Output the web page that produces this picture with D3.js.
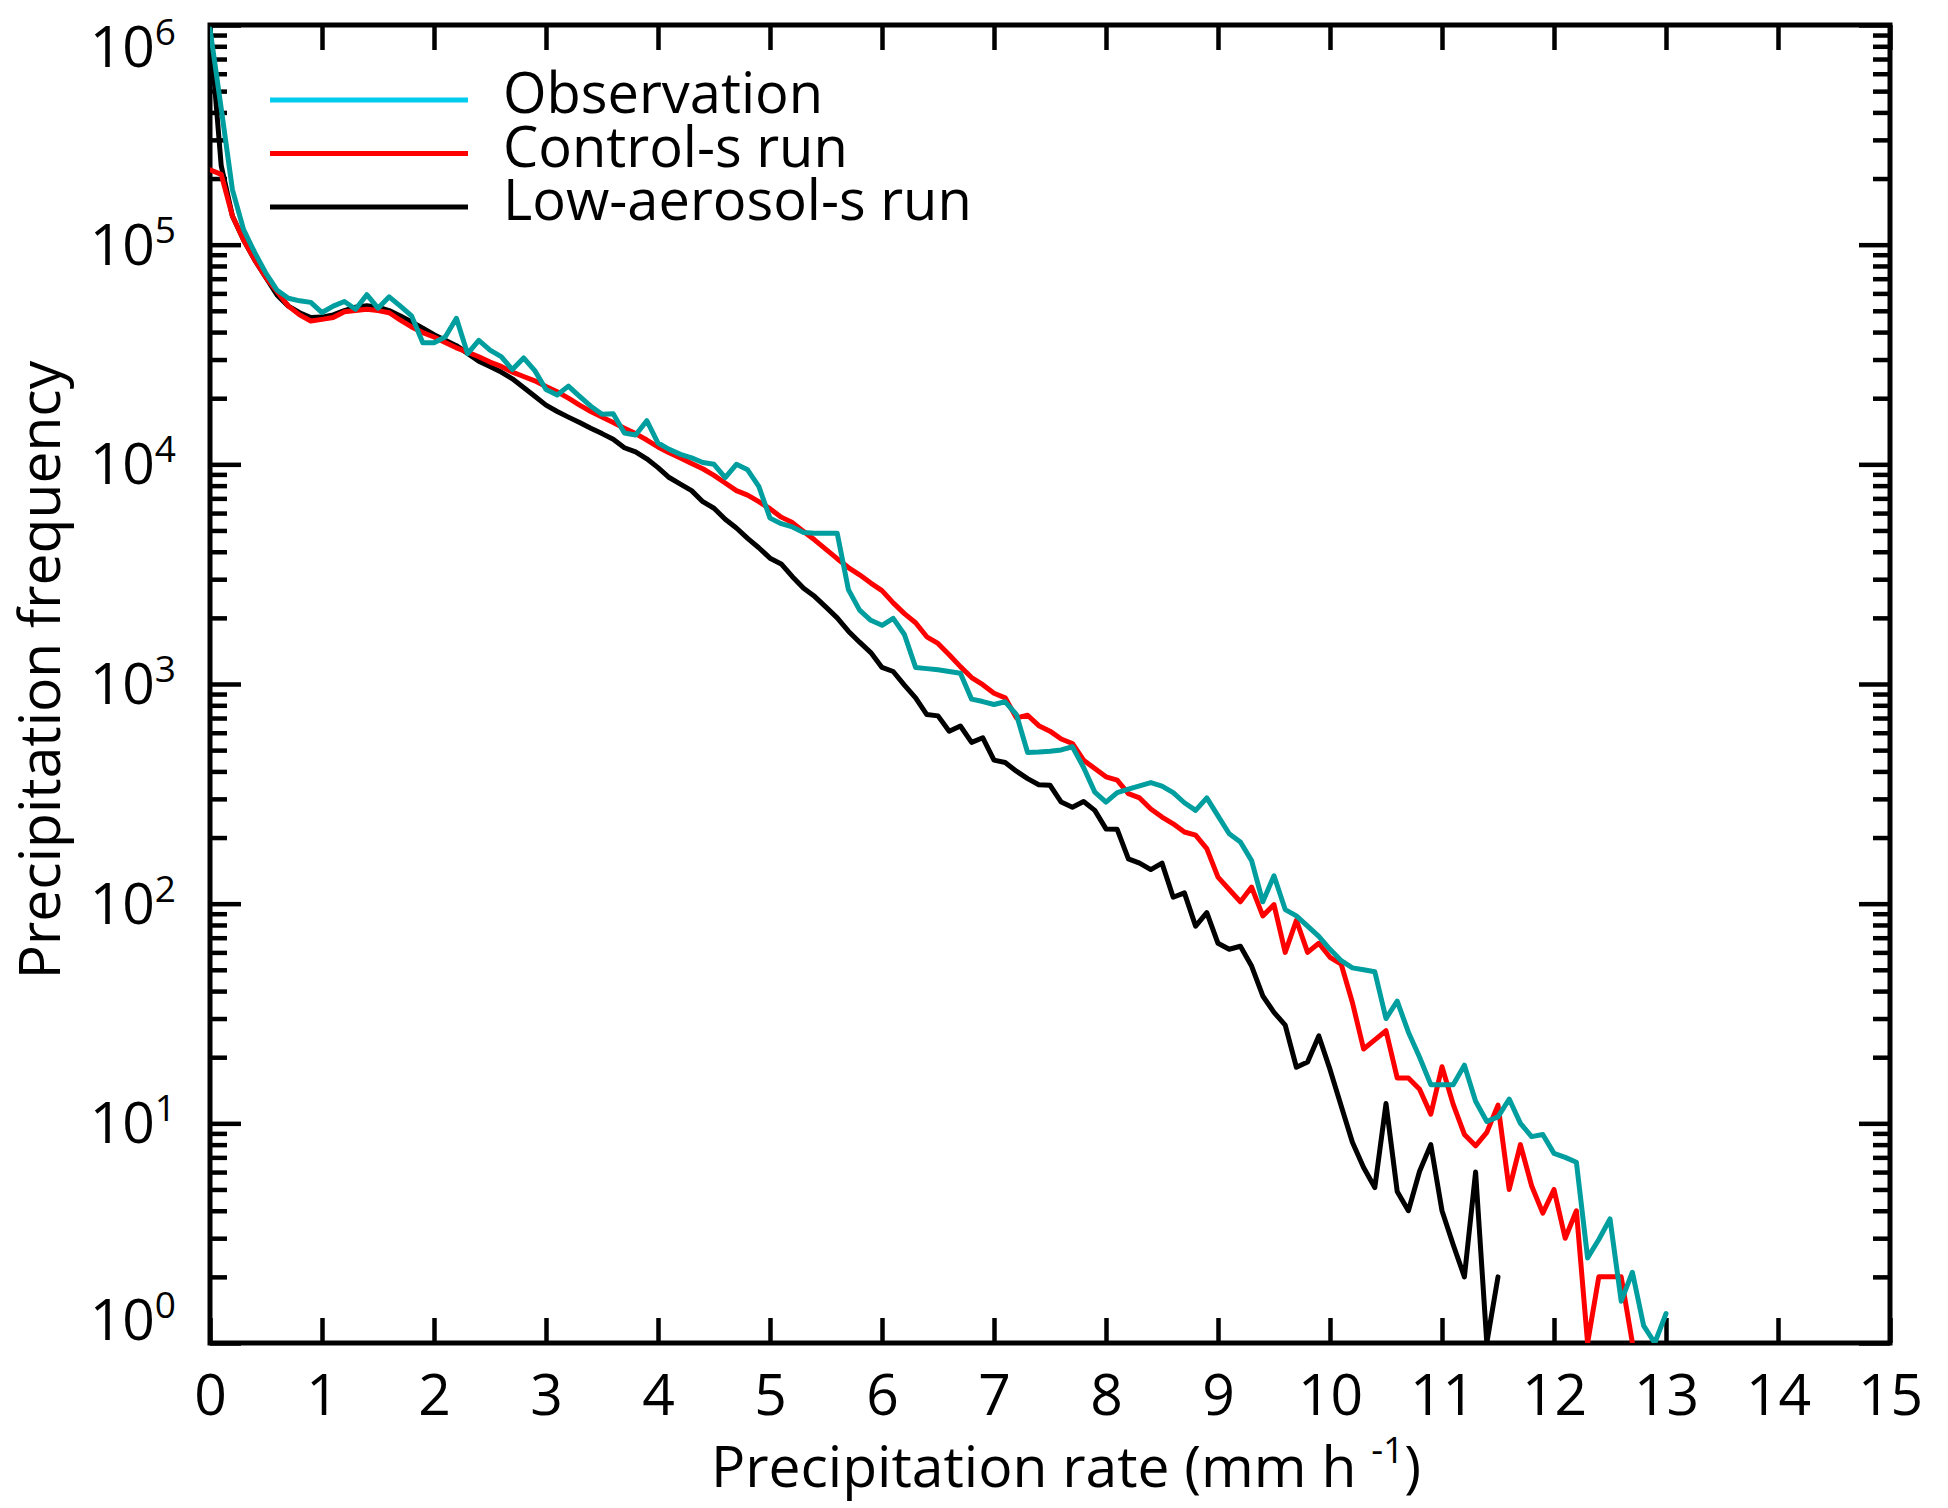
<!DOCTYPE html>
<html>
<head>
<meta charset="utf-8">
<script src="https://cdn.jsdelivr.net/npm/d3@7"></script>
<style>
  body { margin: 0; background: #fff; }
  text { font-family: "Open Sans", "Noto Sans", sans-serif; fill: #000; }
</style>
</head>
<body>
<script>
// bin centres, mm/h (0.1 mm/h bins)
const rate = [0.0,0.1,0.2,0.3,0.4,0.5,0.6,0.7,0.8,0.9,
  1.0,1.1,1.2,1.3,1.4,1.5,1.6,1.7,1.8,1.9,
  2.0,2.1,2.2,2.3,2.4,2.5,2.6,2.7,2.8,2.9,
  3.0,3.1,3.2,3.3,3.4,3.5,3.6,3.7,3.8,3.9,
  4.0,4.1,4.2,4.3,4.4,4.5,4.6,4.7,4.8,4.9,
  5.0,5.1,5.2,5.3,5.4,5.5,5.6,5.7,5.8,5.9,
  6.0,6.1,6.2,6.3,6.4,6.5,6.6,6.7,6.8,6.9,
  7.0,7.1,7.2,7.3,7.4,7.5,7.6,7.7,7.8,7.9,
  8.0,8.1,8.2,8.3,8.4,8.5,8.6,8.7,8.8,8.9,
  9.0,9.1,9.2,9.3,9.4,9.5,9.6,9.7,9.8,9.9,
  10.0,10.1,10.2,10.3,10.4,10.5,10.6,10.7,10.8,10.9,
  11.0,11.1,11.2,11.3,11.4,11.5,11.6,11.7,11.8,11.9,
  12.0,12.1,12.2,12.3,12.4,12.5,12.6,12.7,12.8,12.9,
  13.0];

const observation = [960000,417000,178000,117000,92000,74000,62000,57000,55500,54600,
  49100,52500,55100,50800,59200,51400,57900,52500,47400,35800,
  35800,38000,46200,31900,36700,33100,30900,27000,30500,26700,
  21900,20700,22700,20400,18400,16900,17000,13900,13600,15800,
  12500,11700,11100,10700,10200,10000,8700,10000,9440,7940,
  5690,5370,5190,4900,4860,4860,4860,2690,2170,1950,
  1850,1990,1680,1190,1175,1160,1140,1120,853,832,
  807,830,726,488,490,494,501,518,417,322,
  290,320,332,344,356,343,320,288,266,303,
  251,208,191,157,102,134,94,88,79,71,
  62,55,51,50,49,30,36,26,20,15,
  15,15,18.4,12.6,10.2,10.7,12.9,10,8.7,8.9,
  7.3,7.0,6.65,2.44,2.96,3.67,1.55,2.1,1.2,1.0,
  1.36];

const controlRun = [219000,209000,135000,105000,85100,70800,61000,52500,47900,44900,
  45700,46600,49500,50100,50800,50100,49000,45300,42200,39800,
  38000,35900,33900,32400,30900,29200,27900,26300,25100,24000,
  22600,21400,20000,18600,17400,16400,15500,14600,13800,12900,
  12000,11300,10700,10100,9550,8910,8220,7590,7240,6760,
  6280,5750,5430,4950,4520,4100,3720,3390,3140,2880,
  2660,2340,2090,1900,1640,1530,1360,1200,1070,993,
  908,865,701,721,646,610,562,536,450,412,
  378,365,317,303,270,248,231,212,205,178,
  132,116,102,119,88,99,60,84,60,66,
  57,53,35.5,21.8,24,26.4,16.1,16.1,14.3,11,
  18.1,12.2,8.9,7.9,9.1,12.1,5.0,8.0,5.2,3.9,
  5.0,3.0,4.0,1,2,2,2,1];

const lowAerosolRun = [960000,229000,135000,105000,85100,70800,58900,52500,49000,46600,
  46800,47900,50100,51900,52700,51900,50100,47400,44500,41700,
  38900,36700,34700,32000,29500,27900,26300,24500,22400,20400,
  18600,17400,16400,15500,14600,13800,13000,11900,11400,10600,
  9660,8710,8130,7590,6760,6310,5620,5130,4600,4170,
  3740,3520,3080,2730,2500,2240,2000,1740,1550,1390,
  1190,1140,989,865,726,716,610,644,542,569,
  450,439,401,371,348,346,290,275,292,266,
  219,218,160,153,143,153,107,112,79,91,
  66,62,64,52,38,32,28,18,19,25,
  17.6,12,8.2,6.3,5.1,12.3,4.9,4.0,6.05,8.0,
  4.0,2.8,2.0,6.0,1,2];

const xTicks = [0,1,2,3,4,5,6,7,8,9,10,11,12,13,14,15];
const decades = [1,10,100,1000,10000,100000,1000000];
const exponents = ["0","1","2","3","4","5","6"];
const legendNames = ["Observation", "Control-s run", "Low-aerosol-s run"];

const W = 1948, H = 1508;
const pLeft = 210, pRight = 1890, pTop = 25, pBottom = 1343;

const x = d3.scaleLinear().domain([0, 15]).range([pLeft, pRight]);
const y = d3.scaleLog().domain([1, 1e6]).range([pBottom, pTop]);

const svg = d3.select("body").append("svg")
  .attr("width", W).attr("height", H);

svg.append("defs").append("clipPath").attr("id", "plot")
  .append("rect").attr("x", pLeft).attr("y", pTop)
  .attr("width", pRight - pLeft).attr("height", pBottom - pTop);

// minor log ticks 2..9 in every decade
const minor = [];
decades.slice(0, -1).forEach(d => { for (let k = 2; k <= 9; k++) minor.push(d * k); });

function styleAxis(g) {
  g.select(".domain").remove();
  g.selectAll(".tick line").attr("stroke", "#000").attr("stroke-width", 4.5);
}

// x axes
svg.append("g").attr("transform", `translate(0,${pBottom})`)
  .call(d3.axisBottom(x).tickValues(xTicks).tickSizeInner(-25).tickSizeOuter(0).tickPadding(32))
  .call(styleAxis)
  .call(g => g.selectAll(".tick text")
    .attr("font-size", 57).attr("font-family", "Open Sans").attr("fill", "#000"));

svg.append("g").attr("transform", `translate(0,${pTop})`)
  .call(d3.axisTop(x).tickValues(xTicks).tickSizeInner(-25).tickSizeOuter(0).tickFormat(""))
  .call(styleAxis);

// y axes, major and minor, both sides
[[d3.axisLeft, pLeft], [d3.axisRight, pRight]].forEach(([ax, px]) => {
  svg.append("g").attr("transform", `translate(${px},0)`)
    .call(ax(y).tickValues(decades).tickSizeInner(-31).tickSizeOuter(0).tickFormat(""))
    .call(styleAxis);
  svg.append("g").attr("transform", `translate(${px},0)`)
    .call(ax(y).tickValues(minor).tickSizeInner(-17).tickSizeOuter(0).tickFormat(""))
    .call(styleAxis);
});

// y tick labels 10^n
const yLab = svg.append("g").selectAll("text").data(decades).enter().append("text")
  .attr("x", 176)
  .attr("y", (d, i) => i === 6 ? pTop + 42 : (i === 0 ? pBottom - 3 : y(d) + 20))
  .attr("text-anchor", "end")
  .attr("font-size", 57)
  .text("10");
yLab.append("tspan")
  .attr("dy", -22)
  .attr("font-size", 37)
  .text((d, i) => exponents[i]);

// frame
svg.append("rect")
  .attr("x", pLeft).attr("y", pTop)
  .attr("width", pRight - pLeft).attr("height", pBottom - pTop)
  .attr("fill", "none").attr("stroke", "#000").attr("stroke-width", 5);

// series
const line = d3.line()
  .x((d, i) => x(rate[i]))
  .y(d => y(d));

const series = [
  { values: lowAerosolRun, color: "#000000" },
  { values: controlRun, color: "#ff0000" },
  { values: observation, color: "#009e9e" }
];

svg.append("g").attr("clip-path", "url(#plot)")
  .selectAll("path").data(series).enter().append("path")
  .attr("d", s => line(s.values))
  .attr("fill", "none")
  .attr("stroke", s => s.color)
  .attr("stroke-width", 5)
  .attr("stroke-linejoin", "round")
  .attr("stroke-linecap", "round");

// legend
const legendColors = ["#00ccee", "#ff0000", "#000000"];
const leg = svg.append("g").selectAll("g").data(legendNames).enter().append("g")
  .attr("transform", (d, i) => `translate(0,${100 + i * 53.5})`);
leg.append("line")
  .attr("x1", 270).attr("x2", 468).attr("y1", 0).attr("y2", 0)
  .attr("stroke", (d, i) => legendColors[i]).attr("stroke-width", 5);
leg.append("text")
  .attr("x", 503).attr("y", 13)
  .attr("font-size", 56)
  .text(d => d);

// axis titles
const xt = svg.append("text")
  .attr("x", 1066).attr("y", 1487)
  .attr("text-anchor", "middle")
  .attr("font-size", 57)
  .text("Precipitation rate (mm h ");
xt.append("tspan").attr("dy", -24).attr("font-size", 37).text("-1");
xt.append("tspan").attr("dy", 24).text(")");

svg.append("text")
  .attr("transform", "translate(60,670) rotate(-90)")
  .attr("text-anchor", "middle")
  .attr("font-size", 57)
  .text("Precipitation frequency");
</script>
</body>
</html>
